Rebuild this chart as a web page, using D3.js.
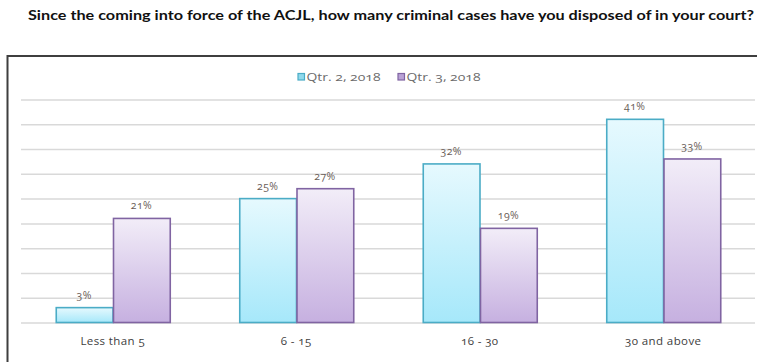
<!DOCTYPE html>
<html>
<head>
<meta charset="utf-8">
<script src="https://cdn.jsdelivr.net/npm/d3@7"></script>
<style>
  html, body { margin: 0; padding: 0; background: #fff; }
  svg { display: block; }
  text { font-family: "Open Sans", Lato, sans-serif; font-variant-numeric: oldstyle-nums; font-feature-settings: "onum" 1; }
</style>
</head>
<body>
<svg id="chart" width="757" height="362"></svg>
<script>
// Survey responses: share of judges by number of criminal cases disposed of
const titleText = "Since the coming into force of the ACJL, how many criminal cases have you disposed of in your court?";
const categories = ["Less than 5", "6 - 15", "16 - 30", "30 and above"];
const seriesNames = ["Qtr. 2, 2018", "Qtr. 3, 2018"];
const qtr2Values = [3, 25, 32, 41];
const qtr3Values = [21, 27, 19, 33];
const yTicks = [0, 5, 10, 15, 20, 25, 30, 35, 40, 45];

const seriesValues = [qtr2Values, qtr3Values];
const seriesStyle = [
  { stroke: "#4bacc6", top: "#e6f9fe", bottom: "#a6e8fa", gid: "gQ2", legendFill: "#8fd9ec" },
  { stroke: "#8064a2", top: "#f2edf8", bottom: "#c6b0e0", gid: "gQ3", legendFill: "#b9a2d6" }
];

const svg = d3.select("#chart");

// Gradients for the bar fills
const defs = svg.append("defs");
seriesStyle.forEach(s => {
  const g = defs.append("linearGradient").attr("id", s.gid)
    .attr("x1", 0).attr("y1", 0).attr("x2", 0).attr("y2", 1);
  g.append("stop").attr("offset", "0%").attr("stop-color", s.top);
  g.append("stop").attr("offset", "100%").attr("stop-color", s.bottom);
});

// Title
svg.append("text")
  .attr("x", 28).attr("y", 20)
  .attr("textLength", 726).attr("lengthAdjust", "spacingAndGlyphs")
  .style("font-size", "12.5px").style("font-weight", "bold")
  .style("font-family", "Lato, 'Open Sans', sans-serif")
  .attr("fill", "#111")
  .text(titleText);

// Chart frame
svg.append("rect")
  .attr("x", 7.5).attr("y", 56).attr("width", 760).attr("height", 320)
  .attr("fill", "none").attr("stroke", "#3f3f3f").attr("stroke-width", 2);

// Scales
const x0 = d3.scaleBand().domain(categories).range([21, 755])
  .paddingInner(0.376).paddingOuter(0.188);
const x1 = d3.scaleBand().domain(seriesNames).range([0, x0.bandwidth()]).padding(0);
const y = d3.scaleLinear().domain([0, 45]).range([322.5, 99.5]);

// Gridlines
const gG = svg.append("g").attr("transform", "translate(755,0)")
  .call(d3.axisLeft(y).tickValues(yTicks).tickSize(734).tickFormat(""));
gG.select(".domain").remove();
gG.selectAll(".tick line").attr("stroke", "#d9d9d9").attr("stroke-width", 1.5);

// Bars
const groups = svg.append("g").selectAll("g")
  .data(categories)
  .join("g")
  .attr("transform", d => `translate(${x0(d)},0)`);

seriesNames.forEach((name, si) => {
  const st = seriesStyle[si];
  groups.append("rect")
    .attr("x", (d) => x1(name) + 0.75)
    .attr("width", x1.bandwidth() - 0.5)
    .attr("y", (d, i) => y(seriesValues[si][i]))
    .attr("height", (d, i) => y(0) - y(seriesValues[si][i]))
    .attr("fill", `url(#${st.gid})`)
    .attr("stroke", st.stroke)
    .attr("stroke-width", 1.6);

  groups.append("text")
    .attr("x", x1(name) + x1.bandwidth() / 2)
    .attr("y", (d, i) => y(seriesValues[si][i]) - 9)
    .attr("text-anchor", "middle")
    .style("font-size", "10.5px")
    .style("letter-spacing", "0.3px")
    .attr("fill", "#6a5d57")
    .text((d, i) => seriesValues[si][i] + "%");
});

// Category axis labels
const xAxis = svg.append("g").attr("transform", "translate(0,322.5)")
  .call(d3.axisBottom(x0).tickSize(0).tickPadding(14));
xAxis.select(".domain").remove();
xAxis.selectAll("text")
  .style("font-size", "11.5px")
  .style("letter-spacing", "0.4px")
  .style("font-family", "'Open Sans', Lato, sans-serif")
  .attr("fill", "#404040");

// Legend
const legend = svg.append("g");
const legendX = [298, 398];
seriesNames.forEach((name, i) => {
  const g = legend.append("g").attr("transform", `translate(${legendX[i]},73.5)`);
  g.append("rect").attr("x", 0).attr("y", 0).attr("width", 6.5).attr("height", 6.5)
    .attr("fill", seriesStyle[i].legendFill)
    .attr("stroke", seriesStyle[i].stroke).attr("stroke-width", 1.2);
  g.append("text").attr("x", 8.5).attr("y", 7.5)
    .attr("textLength", 74).attr("lengthAdjust", "spacingAndGlyphs")
    .style("font-size", "11px").attr("fill", "#6b6b6b")
    .text(name);
});
</script>
</body>
</html>
